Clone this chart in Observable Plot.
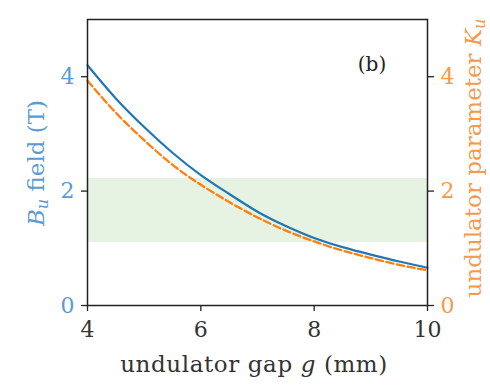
<!DOCTYPE html>
<html><head><meta charset="utf-8">
<script src="https://cdn.jsdelivr.net/npm/d3@7"></script>
<script src="https://cdn.jsdelivr.net/npm/@observablehq/plot@0.6"></script>
<style>body{margin:0;background:#fff}</style>
</head><body><div id="chart"></div>
<script>
// undulator gap g (mm)
const gap    = [4, 4.5, 5, 5.5, 6, 6.5, 7, 7.5, 8, 8.5, 9, 9.5, 10];
// B_u field (T) - solid blue
const fieldB = [4.20, 3.62, 3.12, 2.67, 2.28, 1.95, 1.64, 1.39, 1.18, 1.02, 0.89, 0.77, 0.66];
// undulator parameter K_u - dashed orange
const paramK = [3.93, 3.37, 2.89, 2.46, 2.11, 1.81, 1.54, 1.31, 1.12, 0.96, 0.83, 0.71, 0.615];
// shaded band
const bandLow  = [1.10];
const bandHigh = [2.22];
const xTicks = [4, 6, 8, 10];
const yTicks = [0, 2, 4];

const blue = "#1f77b4", orange = "#ff7f0e";
const blueText = "#5a9bd2", orangeText = "#f59a4c";
const font = "'DejaVu Serif', serif";

const rowsB = gap.map((g, i) => ({g, v: fieldB[i]}));
const rowsK = gap.map((g, i) => ({g, v: paramK[i]}));
const band = bandLow.map((lo, i) => ({lo, hi: bandHigh[i], x1: gap[0], x2: gap[gap.length - 1]}));

const plot = Plot.plot({
  width: 490, height: 385,
  marginLeft: 87, marginRight: 63, marginTop: 19, marginBottom: 80,
  x: {domain: [4, 10]},
  y: {domain: [0, 5]},
  style: {fontFamily: font, fontSize: "21px", background: "#fff"},
  marks: [
    Plot.rect(band, {x1: "x1", x2: "x2", y1: "lo", y2: "hi", fill: "#e6f2e2"}),
    Plot.line(rowsB, {x: "g", y: "v", stroke: blue, strokeWidth: 2.2, curve: "natural"}),
    Plot.line(rowsK, {x: "g", y: "v", stroke: orange, strokeWidth: 2.3, strokeDasharray: "7.4,3.4", curve: "natural"}),
    Plot.frame({stroke: "#222", strokeWidth: 1.5}),
    Plot.axisX({ticks: xTicks, tickFormat: d => String(d), tickSize: 6, tickPadding: 10, label: null, fill: "#333", stroke: "#222", strokeWidth: 1.3, fontFamily: font, fontSize: 22}),
    Plot.axisY({anchor: "left", ticks: yTicks, tickFormat: d => String(d), tickSize: 6, tickPadding: 7, label: null, fill: blueText, stroke: "#222", strokeWidth: 1.3, fontFamily: font, fontSize: 22}),
    Plot.axisY({anchor: "right", ticks: yTicks, tickFormat: d => String(d), tickSize: 6, tickPadding: 7, label: null, fill: orangeText, stroke: "#222", strokeWidth: 1.3, fontFamily: font, fontSize: 22})
  ]
});
document.getElementById("chart").appendChild(plot);

const svg = d3.select(plot.tagName.toLowerCase() === "svg" ? plot : plot.querySelector("svg"));

// x label
const xl = svg.append("text").attr("x", 254).attr("y", 372).attr("text-anchor", "middle")
  .attr("font-family", font).attr("font-size", 23).attr("letter-spacing", 0.6).attr("fill", "#333");
xl.append("tspan").text("undulator gap ");
xl.append("tspan").attr("font-style", "italic").text("g");
xl.append("tspan").text(" (mm)");

// left label
const yl = svg.append("text").attr("transform", "translate(44,163) rotate(-90)").attr("text-anchor", "middle")
  .attr("font-family", font).attr("font-size", 23).attr("fill", blueText);
yl.append("tspan").attr("font-style", "italic").text("B");
yl.append("tspan").attr("font-style", "italic").attr("font-size", 16).attr("dy", 4).text("u");
yl.append("tspan").attr("dy", -4).text(" field (T)");

// right label
const yr = svg.append("text").attr("transform", "translate(481,158) rotate(-90)").attr("text-anchor", "middle")
  .attr("font-family", font).attr("font-size", 23).attr("fill", orangeText);
yr.append("tspan").text("undulator parameter ");
yr.append("tspan").attr("font-style", "italic").text("K");
yr.append("tspan").attr("font-style", "italic").attr("font-size", 16).attr("dy", 4).text("u");

// panel tag
svg.append("text").attr("x", 372).attr("y", 71).attr("text-anchor", "middle")
  .attr("font-family", font).attr("font-size", 20).attr("fill", "#222").text("(b)");
</script>
</body></html>
